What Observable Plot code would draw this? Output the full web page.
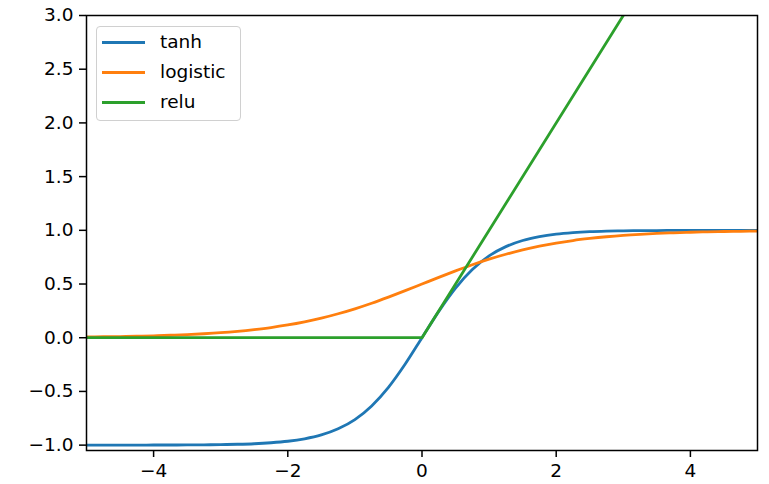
<!DOCTYPE html>
<html>
<head>
<meta charset="utf-8">
<script src="https://cdn.jsdelivr.net/npm/d3@7"></script>
<script src="https://cdn.jsdelivr.net/npm/@observablehq/plot@0.6"></script>
<style>
  html, body { margin: 0; padding: 0; background: #fff; }
  #wrap { position: relative; width: 769px; height: 484px; font-family: "DejaVu Sans", sans-serif; }
  #legend { position: absolute; left: 96px; top: 26px; width: 145px; height: 95px; border: 1px solid #d0d0d0; border-radius: 4px; background: rgba(255,255,255,0.8); box-sizing: border-box; }
  .item { position: absolute; left: 0; height: 30px; width: 100%; }
  .sw { position: absolute; left: 5px; width: 43px; height: 3px; top: 13px; }
  .lb { position: absolute; left: 63px; top: 0; line-height: 28px; font-size: 18.5px; color: #000; }
</style>
</head>
<body>
<div id="wrap"></div>
<script>
// x sample positions
const xs = [-5,-4.75,-4.5,-4.25,-4,-3.75,-3.5,-3.25,-3,-2.75,-2.5,-2.25,-2,-1.75,-1.5,-1.25,-1,-0.75,-0.5,-0.25,0,
            0.25,0.5,0.75,1,1.25,1.5,1.75,2,2.25,2.5,2.75,3,3.25,3.5,3.75,4,4.25,4.5,4.75,5];
const tanhY = [-1.000,-1.000,-1.000,-1.000,-0.999,-0.999,-0.998,-0.997,-0.995,-0.992,-0.987,-0.978,-0.964,-0.941,-0.905,-0.848,-0.762,-0.635,-0.462,-0.245,0.000,
               0.245,0.462,0.635,0.762,0.848,0.905,0.941,0.964,0.978,0.987,0.992,0.995,0.997,0.998,0.999,0.999,1.000,1.000,1.000,1.000];
const logisticY = [0.007,0.009,0.011,0.014,0.018,0.023,0.029,0.037,0.047,0.060,0.076,0.095,0.119,0.148,0.182,0.223,0.269,0.321,0.378,0.438,0.500,
                   0.562,0.622,0.679,0.731,0.777,0.818,0.852,0.881,0.905,0.924,0.940,0.953,0.963,0.971,0.977,0.982,0.986,0.989,0.991,0.993];
const reluX = [-5, 0, 5];
const reluY = [0, 0, 5];
const seriesNames = ["tanh", "logistic", "relu"];
const seriesColors = ["#1f77b4", "#ff7f0e", "#2ca02c"];
const xTicks = [-4, -2, 0, 2, 4];
const yTicks = [-1.0, -0.5, 0.0, 0.5, 1.0, 1.5, 2.0, 2.5, 3.0];

const rows = [];
xs.forEach((x, i) => rows.push({series: "tanh", x, y: tanhY[i]}));
xs.forEach((x, i) => rows.push({series: "logistic", x, y: logisticY[i]}));
reluX.forEach((x, i) => rows.push({series: "relu", x, y: reluY[i]}));

const fmt = d3.format(".1f");
const chart = Plot.plot({
  width: 769,
  height: 484,
  marginLeft: 86,
  marginRight: 12,
  marginTop: 15,
  marginBottom: 34,
  style: {fontFamily: "DejaVu Sans, sans-serif", fontSize: "18.5px", color: "#000", background: "#fff", overflow: "visible"},
  x: {domain: [-5, 5]},
  y: {domain: [-1.05, 3]},
  color: {domain: seriesNames, range: seriesColors},
  marks: [
    Plot.line(rows.filter(d => d.series === "tanh"), {x: "x", y: "y", stroke: "series", strokeWidth: 2.8, curve: "monotone-x", clip: true}),
    Plot.line(rows.filter(d => d.series === "logistic"), {x: "x", y: "y", stroke: "series", strokeWidth: 2.8, curve: "monotone-x", clip: true}),
    Plot.line(rows.filter(d => d.series === "relu"), {x: "x", y: "y", stroke: "series", strokeWidth: 2.8, clip: true}),
    Plot.frame({stroke: "#000", strokeWidth: 1.5}),
    Plot.axisX({ticks: xTicks, tickSize: 7, tickPadding: 6, strokeWidth: 1.5, fontSize: 18.5, label: null,
                tickFormat: d => d < 0 ? "\u2212" + Math.abs(d) : String(d)}),
    Plot.axisY({ticks: yTicks, tickSize: 7, tickPadding: 6, strokeWidth: 1.5, fontSize: 18.5, label: null,
                tickFormat: d => fmt(d)})
  ]
});

const wrap = document.getElementById("wrap");
wrap.appendChild(chart);

const legend = document.createElement("div");
legend.id = "legend";
seriesNames.forEach((name, i) => {
  const item = document.createElement("div");
  item.className = "item";
  item.style.top = (1 + i * 30) + "px";
  const sw = document.createElement("div");
  sw.className = "sw";
  sw.style.background = seriesColors[i];
  const lb = document.createElement("div");
  lb.className = "lb";
  lb.textContent = name;
  item.appendChild(sw);
  item.appendChild(lb);
  legend.appendChild(item);
});
wrap.appendChild(legend);
</script>
</body>
</html>
